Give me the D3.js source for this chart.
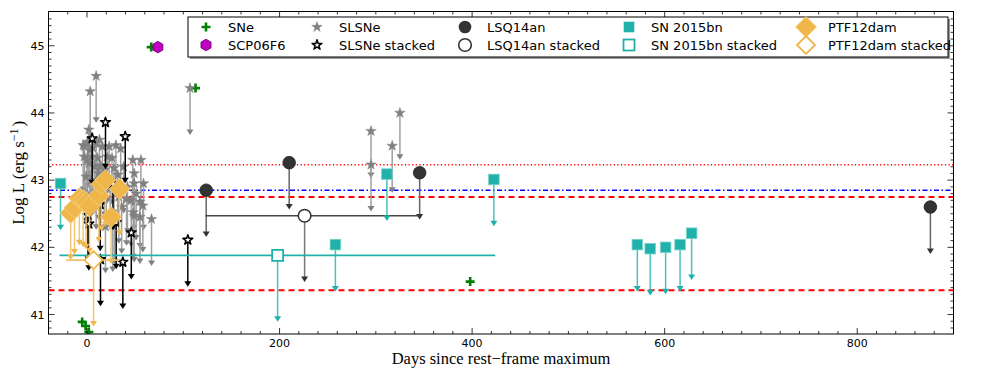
<!DOCTYPE html>
<html><head><meta charset="utf-8">
<script src="https://cdn.jsdelivr.net/npm/d3@7"></script>
<style>body{margin:0;background:#fff}svg{display:block}</style>
</head><body>
<svg id="c" width="981" height="379"></svg>
<script>
// ---------------- data ----------------
const xTicks = [0, 200, 400, 600, 800];
const yTicks = [41, 42, 43, 44, 45];

const sneDays = [66.7, 112.7, 398, -5, -1.5, 1.9];
const sneLogL = [44.98, 44.37, 41.49, 40.89, 40.83, 40.74];

const scpDays = [73.6];
const scpLogL = [44.98];

const slsneDays = [9.5, 3.3, 1.9, 107, -4, -2.6, 0.5, 3, 6, 9.5, 13, 16, 23, 30, 35,
  -3, 0, 2.5, 5, 8, 11, 14, 18, 21, 26, 28, -1, 4, 9.5, 12, 20, 24, 32, 38,
  47.6, 56, 49, 58.7, 49, 51, 46, 55, 58, 48, 55, 67, 41, 36, 19.2, 26.8, 28.5, 49, 42, 33,
  295, 295, 317, 325];
const slsneLogL = [44.55, 44.32, 43.75, 44.37, 43.52, 43.50, 43.57, 43.45, 43.48, 43.55, 43.60, 43.50, 43.50, 43.52, 43.47,
  43.35, 43.30, 43.25, 43.35, 43.20, 43.33, 43.22, 43.15, 43.35, 43.33, 43.18, 43.05, 43.00, 42.96, 43.10, 43.05, 42.98, 43.08, 43.20,
  43.30, 43.30, 43.10, 42.95, 42.95, 42.80, 42.70, 42.68, 42.62, 42.52, 42.45, 42.42, 42.72, 42.60, 42.31, 42.33, 42.45, 42.47, 42.90, 42.75,
  43.73, 43.23, 43.51, 44.00];

const slsneStkDays = [5.4, 19.2, 39.7, 13.7, 1.9, 1.0, 30.3, 46, 37.2, 14, 104.7, 27];
const slsneStkLogL = [43.62, 43.86, 43.65, 42.64, 42.35, 42.48, 42.37, 42.22, 41.78, 41.82, 42.11, 42.95];

const lsqDays = [123.8, 210, 345.5, 876];
const lsqLogL = [42.85, 43.26, 43.11, 42.60];
const lsqStkDay = [226], lsqStkLogL = [42.47], lsqStkFrom = [123], lsqStkTo = [345.5];

const bnDays = [-27.5, 258, 311.5, 422.6, 571.6, 585, 601, 616, 628];
const bnLogL = [42.95, 42.04, 43.09, 43.01, 42.04, 41.98, 42.00, 42.04, 42.21];
const bnStkDay = [198], bnStkLogL = [41.88], bnStkFrom = [-28.6], bnStkTo = [424];

const ptfDays = [-17, -13, -8, -4, -1, 2.6, 12.3, 14.7, 19, 25, 33.8];
const ptfLogL = [42.51, 42.59, 42.73, 42.70, 42.67, 42.61, 42.77, 42.94, 43.00, 42.45, 42.87];
const ptfStkDay = [6.8], ptfStkLogL = [41.81], ptfStkFrom = [-21.6], ptfStkTo = [33.8];

const refLines = [43.23, 42.85, 42.75, 41.36];
const ulArrow = 0.69, stkArrow = 0.98;

// ---------------- layout ----------------
const m = {l: 48.5, r: 953.5, t: 11.5, b: 334};
const x = d3.scaleLinear().domain([-40, 900]).range([m.l, m.r]);
const y = d3.scaleLinear().domain([40.71, 45.51]).range([m.b, m.t]);
const svg = d3.select('#c');

svg.append('defs').append('clipPath').attr('id', 'clip')
  .append('rect').attr('x', m.l).attr('y', m.t).attr('width', m.r - m.l).attr('height', m.b - m.t);
const g = svg.append('g').attr('clip-path', 'url(#clip)');

const C = {teal: '#20B2AA', orange: '#EFB74A', dark: '#333333', gray: '#808080', green: '#008000', mag: '#BF00BF'};

// reference lines
const refStyle = [
  {c: '#ff0000', w: 1.5, d: '1.2,2.4'},
  {c: '#0000ff', w: 1.5, d: '5,2.5,1.5,2.5'},
  {c: '#ff0000', w: 2, d: '6,4'},
  {c: '#ff0000', w: 2, d: '6,4'}
];
refLines.forEach((v, i) => {
  g.append('line').attr('x1', m.l).attr('x2', m.r).attr('y1', y(v)).attr('y2', y(v))
    .attr('stroke', refStyle[i].c).attr('stroke-width', refStyle[i].w).attr('stroke-dasharray', refStyle[i].d);
});

// helpers
function tri(px, py, col) {
  g.append('path').attr('d', `M${px - 3.5},${py - 5}L${px + 3.5},${py - 5}L${px},${py + 0.5}Z`).attr('fill', col);
}
function ul(days, logL, len, lineCol, headCol, op) {
  days.forEach((d, i) => {
    const px = x(d), y1 = y(logL[i]), y2 = y(logL[i] - len);
    g.append('line').attr('x1', px).attr('x2', px).attr('y1', y1).attr('y2', y2 - 3)
      .attr('stroke', lineCol).attr('stroke-width', 1.5).attr('opacity', op);
    tri(px, y2, headCol);
  });
}
function hbar(from, to, val, col) {
  from.forEach((f, i) => {
    g.append('line').attr('x1', x(f)).attr('x2', x(to[i])).attr('y1', y(val[i])).attr('y2', y(val[i]))
      .attr('stroke', col).attr('stroke-width', 1.6);
  });
}
const starPath = d3.symbol().type(d3.symbolStar);
const hexPath = r => d3.range(6).map(k => {
  const a = Math.PI / 6 + k * Math.PI / 3; return [r * Math.cos(a), r * Math.sin(a)];
});
function hex(layer, px, py, r) {
  layer.append('path').attr('d', 'M' + hexPath(r).map(p => p.join(',')).join('L') + 'Z')
    .attr('transform', `translate(${px},${py})`).attr('fill', C.mag).attr('stroke', '#6a006a').attr('stroke-width', 0.8);
}
function plus(layer, px, py, s, col) {
  layer.append('path').attr('d', `M${px - s},${py}H${px + s}M${px},${py - s}V${py + s}`)
    .attr('stroke', col).attr('stroke-width', 2.6);
}
function diamond(layer, px, py, r, fill, stroke, sw) {
  layer.append('path').attr('d', `M${px},${py - r}L${px + r},${py}L${px},${py + r}L${px - r},${py}Z`)
    .attr('fill', fill).attr('stroke', stroke).attr('stroke-width', sw);
}
function grayStar(layer, px, py) {
  layer.append('path').attr('d', starPath.size(34)()).attr('transform', `translate(${px},${py})`)
    .attr('fill', C.gray).attr('stroke', C.gray).attr('stroke-width', 0.5);
}
function openStar(layer, px, py) {
  layer.append('path').attr('d', starPath.size(30)()).attr('transform', `translate(${px},${py})`)
    .attr('fill', '#fff').attr('stroke', '#000').attr('stroke-width', 1.5).attr('stroke-linejoin', 'round');
}

// SNe
sneDays.forEach((d, i) => plus(g, x(d), y(sneLogL[i]), 4.5, C.green));
// SCP06F6
scpDays.forEach((d, i) => hex(g, x(d), y(scpLogL[i]), 5.8));

// SLSNe
ul(slsneDays, slsneLogL, ulArrow, '#a0a0a0', '#808080', 1);
slsneDays.forEach((d, i) => grayStar(g, x(d), y(slsneLogL[i])));

// SLSNe stacked
ul(slsneStkDays, slsneStkLogL, ulArrow, '#000', '#000', 1);
slsneStkDays.forEach((d, i) => openStar(g, x(d), y(slsneStkLogL[i])));

// LSQ14an
ul(lsqDays, lsqLogL, ulArrow, '#666', C.dark, 1);
lsqDays.forEach((d, i) => g.append('circle').attr('cx', x(d)).attr('cy', y(lsqLogL[i])).attr('r', 6.3)
  .attr('fill', C.dark).attr('stroke', '#222').attr('stroke-width', 0.8));
hbar(lsqStkFrom, lsqStkTo, lsqStkLogL, '#444');
ul(lsqStkDay, lsqStkLogL, stkArrow, '#777', C.dark, 1);
lsqStkDay.forEach((d, i) => g.append('circle').attr('cx', x(d)).attr('cy', y(lsqStkLogL[i])).attr('r', 6.3)
  .attr('fill', '#fff').attr('stroke', C.dark).attr('stroke-width', 1.6));

// SN 2015bn
ul(bnDays, bnLogL, ulArrow, C.teal, C.teal, 0.8);
bnDays.forEach((d, i) => g.append('rect').attr('x', x(d) - 5.3).attr('y', y(bnLogL[i]) - 5.3).attr('width', 10.6).attr('height', 10.6)
  .attr('fill', C.teal).attr('stroke', '#7ad3cd').attr('stroke-width', 0.8));
hbar(bnStkFrom, bnStkTo, bnStkLogL, C.teal);
ul(bnStkDay, bnStkLogL, stkArrow, C.teal, C.teal, 0.8);
bnStkDay.forEach((d, i) => g.append('rect').attr('x', x(d) - 5.5).attr('y', y(bnStkLogL[i]) - 5.5).attr('width', 11).attr('height', 11)
  .attr('fill', '#fff').attr('stroke', C.teal).attr('stroke-width', 1.8));

// PTF12dam
ul(ptfDays, ptfLogL, ulArrow, '#F3C677', C.orange, 1);
ptfDays.forEach((d, i) => diamond(g, x(d), y(ptfLogL[i]), 10.5, C.orange, '#f5cf86', 0.8));
hbar(ptfStkFrom, ptfStkTo, ptfStkLogL, '#F1C062');
ul(ptfStkDay, ptfStkLogL, stkArrow, '#F3C677', C.orange, 1);
ptfStkDay.forEach((d, i) => diamond(g, x(d), y(ptfStkLogL[i]), 9, '#fff', C.orange, 1.8));

// ---------------- axes ----------------
const ax = svg.append('g');
ax.append('rect').attr('x', m.l).attr('y', m.t).attr('width', m.r - m.l).attr('height', m.b - m.t)
  .attr('fill', 'none').attr('stroke', '#000').attr('stroke-width', 1);
const tk = (x1, y1, x2, y2) => ax.append('line').attr('x1', x1).attr('y1', y1).attr('x2', x2).attr('y2', y2)
  .attr('stroke', '#000').attr('stroke-width', 0.8);
d3.range(-40, 901, 20).forEach(v => {
  const L = xTicks.includes(v) ? 6 : 3;
  tk(x(v), m.b, x(v), m.b - L); tk(x(v), m.t, x(v), m.t + L);
});
d3.range(408, 455, 1).forEach(k => {
  const v = k / 10, L = (k % 10 === 0) ? 6 : 3;
  tk(m.l, y(v), m.l + L, y(v)); tk(m.r, y(v), m.r - L, y(v));
});
xTicks.forEach(v => ax.append('text').attr('x', x(v)).attr('y', m.b + 12.5).attr('text-anchor', 'middle')
  .attr('font-family', 'DejaVu Sans').attr('font-size', 11).text(v));
yTicks.forEach(v => ax.append('text').attr('x', m.l - 4).attr('y', y(v) + 4).attr('text-anchor', 'end')
  .attr('font-family', 'DejaVu Sans').attr('font-size', 11).text(v));

ax.append('text').attr('x', (m.l + m.r) / 2).attr('y', 364).attr('text-anchor', 'middle')
  .attr('font-family', 'Liberation Serif').attr('font-size', 16.5).text('Days since rest\u2212frame maximum');
const yl = ax.append('text').attr('transform', `translate(24,${(m.t + m.b) / 2}) rotate(-90)`).attr('text-anchor', 'middle')
  .attr('font-family', 'Liberation Serif').attr('font-size', 17);
yl.append('tspan').text('Log L (erg s');
yl.append('tspan').attr('dy', -6).attr('font-size', 12).text('\u22121');
yl.append('tspan').attr('dy', 6).attr('dx', 2).text(')');

// ---------------- legend ----------------
const lg = svg.append('g');
lg.append('rect').attr('x', 190).attr('y', 19).attr('width', 760).attr('height', 40).attr('fill', '#999');
lg.append('rect').attr('x', 188).attr('y', 17).attr('width', 760).attr('height', 40).attr('fill', '#fff').attr('stroke', '#000').attr('stroke-width', 1);
const legendLabels = ['SNe', 'SCP06F6', 'SLSNe', 'SLSNe stacked', 'LSQ14an', 'LSQ14an stacked',
  'SN 2015bn', 'SN 2015bn stacked', 'PTF12dam', 'PTF12dam stacked'];
const legendKinds = ['plus', 'hex', 'star', 'starO', 'circ', 'circO', 'sq', 'sqO', 'dia', 'diaO'];
const colX = [206, 317, 465, 629, 806], rowY = [27, 45];
legendLabels.forEach((t, i) => {
  const px = colX[Math.floor(i / 2)], py = rowY[i % 2], k = legendKinds[i];
  if (k === 'plus') plus(lg, px, py, 4.5, C.green);
  if (k === 'hex') hex(lg, px, py, 5.8);
  if (k === 'star') grayStar(lg, px, py);
  if (k === 'starO') openStar(lg, px, py);
  if (k === 'circ') lg.append('circle').attr('cx', px).attr('cy', py).attr('r', 6.3).attr('fill', C.dark);
  if (k === 'circO') lg.append('circle').attr('cx', px).attr('cy', py).attr('r', 6.3).attr('fill', '#fff').attr('stroke', C.dark).attr('stroke-width', 1.6);
  if (k === 'sq') lg.append('rect').attr('x', px - 5.3).attr('y', py - 5.3).attr('width', 10.6).attr('height', 10.6).attr('fill', C.teal);
  if (k === 'sqO') lg.append('rect').attr('x', px - 5.5).attr('y', py - 5.5).attr('width', 11).attr('height', 11).attr('fill', '#fff').attr('stroke', C.teal).attr('stroke-width', 1.8);
  if (k === 'dia') diamond(lg, px, py, 10.5, C.orange, '#f5cf86', 0.8);
  if (k === 'diaO') diamond(lg, px, py, 9, '#fff', C.orange, 1.8);
  lg.append('text').attr('x', px + 22).attr('y', py + 4.5).attr('font-family', 'DejaVu Sans').attr('font-size', 13).text(t);
});
</script>
</body></html>
